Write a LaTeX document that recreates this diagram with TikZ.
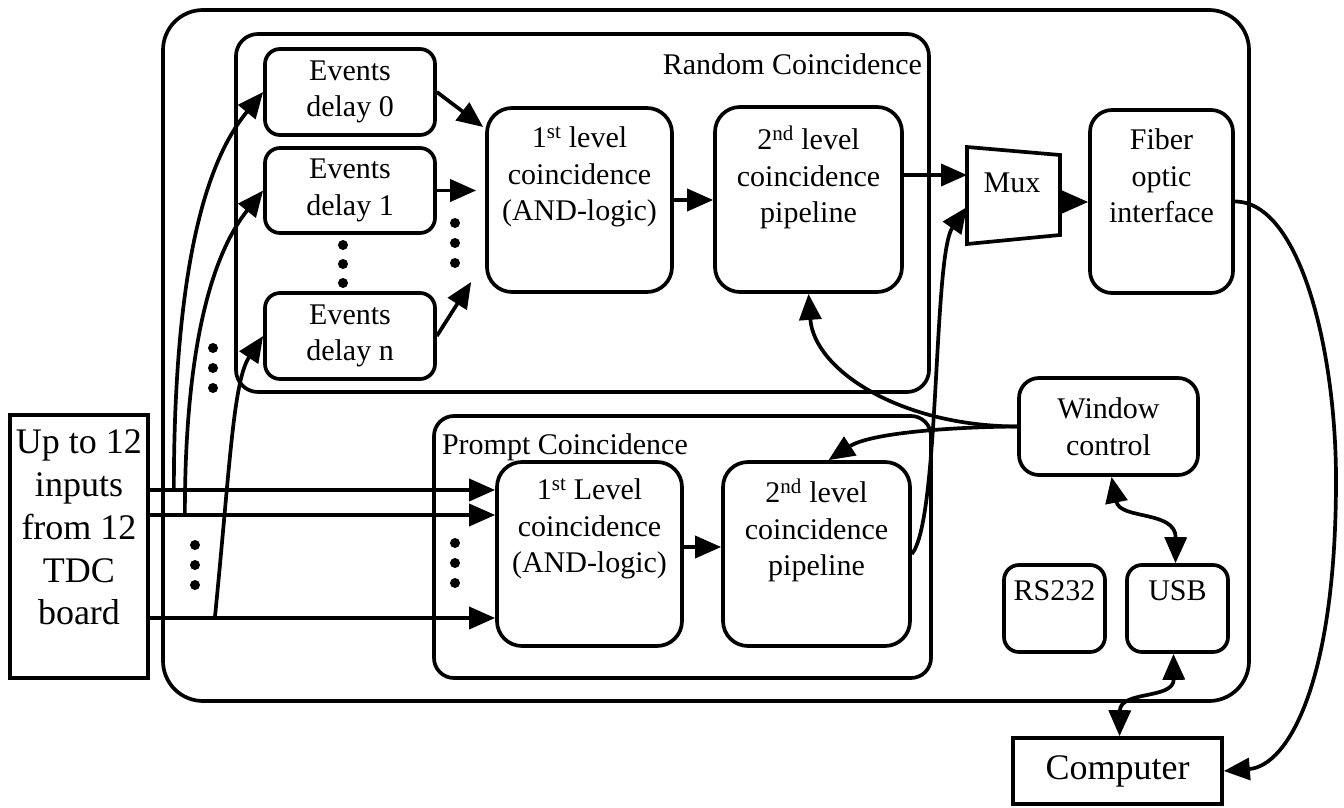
\documentclass[tikz,border=0pt]{standalone}
\usepackage{fontspec}
\setmainfont{Liberation Serif}
\usetikzlibrary{positioning,arrows.meta}

\begin{document}
\begin{tikzpicture}[x=1pt, y=-1pt, line width=3.7pt,
    every node/.style = {align=center, font=\fontsize{30}{36.5}\selectfont},
    blk/.style = {draw, rounded corners=15pt, inner sep=0pt},
    txt/.style = {inner sep=0pt, anchor=north},
    big/.style = {font=\fontsize{36}{42.75}\selectfont},
    arr/.style = {-{Triangle[length=26pt, width=22pt]}},
    dbl/.style = {{Triangle[length=26pt, width=22pt]}-{Triangle[length=26pt, width=22pt]}}]
  \useasboundingbox (0,0) rectangle (1344,808);

  % containers
  \node[blk, rounded corners=40pt, minimum width=1086pt, minimum height=691pt] (board) at (706,355.5) {};
  \node[blk, rounded corners=22pt, minimum width=693pt, minimum height=358pt] (rnd) at (582.5,213) {};
  \node[inner sep=0pt, anchor=north east] (rndlbl) at ([shift={(-7pt,-20pt)}]rnd.north east) {Random Coincidence};
  \node[blk, rounded corners=20pt, minimum width=497pt, minimum height=262pt] (prm) at (682.5,547) {};
  \node[inner sep=0pt, anchor=north west] (prmlbl) at ([shift={(8pt,-18pt)}]prm.north west) {Prompt Coincidence};

  % random coincidence
  \node[blk, minimum width=170pt, minimum height=86pt] (d0) at (350,92) {Events\\delay 0};
  \node[blk, minimum width=170pt, minimum height=85pt] (d1) at (350,190.5) {Events\\delay 1};
  \node[blk, minimum width=170pt, minimum height=86pt] (dn) at (350,336) {Events\\delay n};
  \node[blk, rounded corners=25pt, minimum width=185pt, minimum height=184pt] (r1) at (579.5,200) {};
  \node[txt] (r1t) at ([yshift=-19pt]r1.north) {1\textsuperscript{st} level\\coincidence\\(AND-logic)};
  \node[blk, rounded corners=25pt, minimum width=187pt, minimum height=185pt] (r2) at (808.5,199.5) {};
  \node[txt] (r2t) at ([yshift=-19pt]r2.north) {2\textsuperscript{nd} level\\coincidence\\pipeline};

  % prompt coincidence
  \node[blk, rounded corners=25pt, minimum width=185pt, minimum height=184pt] (p1) at (589.5,554) {};
  \node[txt] (p1t) at ([yshift=-17pt]p1.north) {1\textsuperscript{st} Level\\coincidence\\(AND-logic)};
  \node[blk, rounded corners=25pt, minimum width=187pt, minimum height=184pt] (p2) at (816.5,554) {};
  \node[txt] (p2t) at ([yshift=-17pt]p2.north) {2\textsuperscript{nd} level\\coincidence\\pipeline};

  % output side
  \node (mux) at (1012,183) {Mux};
  \draw (967,147) -- (1060,155) -- (1060,235) -- (967,244) -- cycle;
  \node[blk, rounded corners=22pt, minimum width=143pt, minimum height=183pt] (fib) at (1161.5,201.5) {};
  \node[txt] (fibt) at ([yshift=-19pt]fib.north) {Fiber\\optic\\interface};
  \node[blk, rounded corners=20pt, minimum width=179pt, minimum height=97pt] (wc) at (1108.5,426.5) {Window\\control};
  \node[blk, minimum width=101pt, minimum height=87pt] (rs) at (1054.5,608.5) {};
  \node[txt] (rst) at ([yshift=-16pt]rs.north) {RS232};
  \node[blk, minimum width=101pt, minimum height=87pt] (usb) at (1177.5,608.5) {};
  \node[txt] (usbt) at ([yshift=-16pt]usb.north) {USB};
  \node[draw, big, inner sep=0pt, minimum width=209pt, minimum height=66pt] (cmp) at (1117.5,771) {Computer};

  % inputs
  \node[draw, inner sep=0pt, minimum width=138pt, minimum height=263pt] (inp) at (79,546.5) {};
  \node[txt, big] (inpt) at ([yshift=-15pt]inp.north) {Up to 12\\inputs\\from 12\\TDC\\board};

  \coordinate (i1) at ([yshift=56.5pt]inp.east);
  \coordinate (i2) at ([yshift=31.5pt]inp.east);
  \coordinate (i3) at ([yshift=-71.5pt]inp.east);
  \coordinate (j1) at ([xshift=24pt]i1);
  \coordinate (j2) at ([xshift=35pt]i2);
  \coordinate (j3) at ([xshift=65pt]i3);
  \coordinate (mxa) at (967,175);
  \coordinate (mxb) at (967,207);
  \coordinate (mxo) at (1060,202);
  \coordinate (bend) at (1336,480);

  % connections
  \draw[arr] (i1) -- (i1 -| p1.west);
  \draw[arr] (i2) -- (i2 -| p1.west);
  \draw[arr] (i3) -- (i3 -| p1.west);
  \draw[arr] (j1) .. controls +(0,-260) and +(-45,55) .. (d0.west);
  \draw[arr] (j2) .. controls +(0,-200) and +(-40,50) .. (d1.west);
  \draw[arr] (j3) .. controls +(15,-150) and +(-30,45) .. (dn.west);
  \draw[arr] (d0.east) -- ([shift={(-2pt,73pt)}]r1.west);
  \draw[arr] (d1.east) -- ([xshift=-9pt]r1.west |- d1.east);
  \draw[arr] (dn.east) -- ([shift={(-14pt,-82pt)}]r1.west);
  \draw[arr] (r1.east) -- (r1.east -| r2.west);
  \draw[arr] (r2.east |- mxa) -- (mxa);
  \draw[arr] ([yshift=7pt]p1.east) -- ([yshift=7pt]p1.east -| p2.west);
  \draw[arr] (p2.east) .. controls (940,520) and (933,255) .. (mxb);
  \draw[arr] (mxo) -- (mxo -| fib.west);
  \draw[arr] (wc.west) .. controls (900,426) and (814,370) .. (r2.south);
  \draw[arr] (wc.west) .. controls (950,427) and (870,433) .. ([xshift=12pt]p2.north);
  \draw[dbl] ([xshift=3pt]wc.south) .. controls (1120,520) and (1176,510) .. ([xshift=-2pt]usb.north);
  \draw[dbl] ([xshift=-4pt]usb.south) .. controls (1174,700) and (1120,690) .. ([xshift=2pt]cmp.north);
  \draw[arr] (fib.east) .. controls +(65,0) and +(0,-130) .. (bend) .. controls +(0,200) and +(65,-5) .. (cmp.east);

  % vertical dots
  \foreach \y in {245,264,283} \fill (343,\y) circle (5pt);
  \foreach \y in {223,243,263} \fill (455,\y) circle (5pt);
  \foreach \y in {348,368,388} \fill (213,\y) circle (5pt);
  \foreach \y in {545,565,585} \fill (195,\y) circle (5pt);
  \foreach \y in {543,563,583} \fill (455,\y) circle (5pt);
\end{tikzpicture}
\end{document}
